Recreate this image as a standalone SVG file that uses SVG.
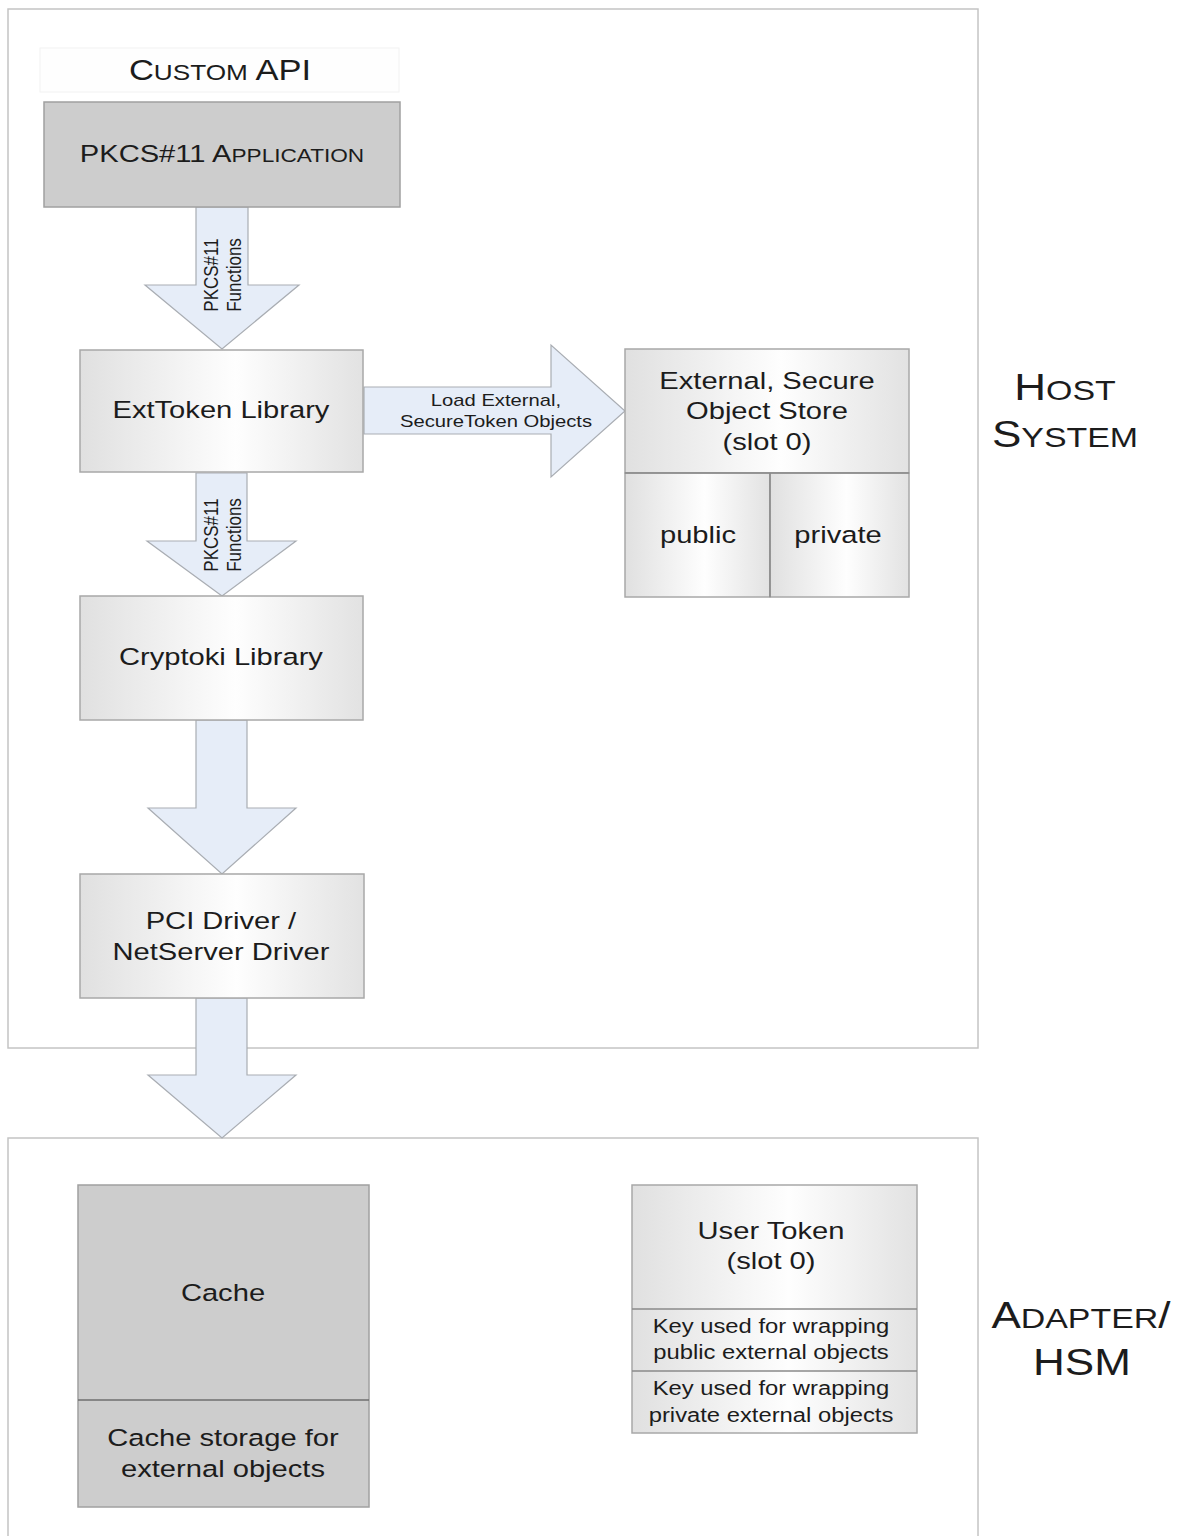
<svg xmlns="http://www.w3.org/2000/svg" width="1184" height="1536" viewBox="0 0 1184 1536">
<defs>
<linearGradient id="g" x1="0" y1="0" x2="1" y2="0">
<stop offset="0" stop-color="#e0e0e0"/>
<stop offset="0.55" stop-color="#fefefe"/>
<stop offset="1" stop-color="#e2e2e2"/>
</linearGradient>
</defs>
<style>
text{font-family:"Liberation Sans",Arial,sans-serif;fill:#1c1c1c;text-anchor:middle}
.s{transform-box:fill-box;transform-origin:center;transform:scaleX(1.19)}
.f{font-size:24.5px}
.m{font-size:20px}
.sm{font-size:17px}
.cont{fill:#ffffff;stroke:#c4c4c4;stroke-width:1.5}
.lt{fill:url(#g);stroke:#a8a8a8;stroke-width:1.5}
.dk{fill:#cdcdcd;stroke:#a0a0a0;stroke-width:1.5}
.arr{fill:#e6edf8;stroke:#a9adb3;stroke-width:1.2}
.div{stroke:#8a8a8a;stroke-width:1.5}
</style>
<rect width="1184" height="1536" fill="#ffffff"/>
<g id="containers">
<g id="host-system">
<rect class="cont" x="8" y="9" width="970" height="1039"/>
<text class="s" x="1065" y="400" font-size="37">H<tspan font-size="28.5">OST</tspan></text>
<text class="s" x="1065" y="447" font-size="37">S<tspan font-size="28.5">YSTEM</tspan></text>
</g>
<g id="adapter-hsm">
<rect class="cont" x="8" y="1138" width="970" height="420"/>
<text class="s" x="1081" y="1328" font-size="37">A<tspan font-size="28.5">DAPTER</tspan>/</text>
<text class="s" x="1082" y="1375" font-size="37">HSM</text>
</g>
</g>
<g id="connectors">
<g id="arrow-app-ext">
<polygon class="arr" points="196,207 248,207 248,285 299,285 222,349 145,285 196,285"/>
<g transform="translate(222,275) scale(1.19,1) rotate(-90)">
<text class="sm" x="0" y="-3.3">PKCS#11</text>
<text class="sm" x="0" y="15.8">Functions</text>
</g>
</g>
<g id="arrow-ext-store">
<polygon class="arr" points="364,387 551,387 551,345 625,411 551,477 551,434 364,434"/>
<text class="sm s" x="496" y="406">Load External,</text>
<text class="sm s" x="496" y="427">SecureToken Objects</text>
</g>
<g id="arrow-ext-crypto">
<polygon class="arr" points="196,473 247,473 247,541 296,541 222,596 147,541 196,541"/>
<g transform="translate(222,535) scale(1.19,1) rotate(-90)">
<text class="sm" x="0" y="-3.3">PKCS#11</text>
<text class="sm" x="0" y="15.8">Functions</text>
</g>
</g>
<g id="arrow-crypto-pci">
<polygon class="arr" points="196,720 247,720 247,808 296,808 222,874 148,808 196,808"/>
</g>
<g id="arrow-pci-hsm">
<polygon class="arr" points="196,998 247,998 247,1075 296,1075 222,1138 148,1075 196,1075"/>
</g>
</g>
<g id="custom-api">
<rect x="40" y="48" width="359" height="44" fill="#fefefe" stroke="#f2f2f2" stroke-width="1"/>
<text class="s" x="220" y="80" font-size="29">C<tspan font-size="22">USTOM</tspan> API</text>
</g>
<g id="pkcs11-application">
<rect class="dk" x="44" y="102" width="356" height="105"/>
<text class="s" x="222" y="162" font-size="24.5">PKCS#11 A<tspan font-size="19">PPLICATION</tspan></text>
</g>
<g id="exttoken-library">
<rect class="lt" x="80" y="350" width="283" height="122"/>
<text class="f s" x="221" y="418">ExtToken Library</text>
</g>
<g id="cryptoki-library">
<rect class="lt" x="80" y="596" width="283" height="124"/>
<text class="f s" x="221" y="665">Cryptoki Library</text>
</g>
<g id="pci-driver">
<rect class="lt" x="80" y="874" width="284" height="124"/>
<text class="f s" x="221" y="929">PCI Driver /</text>
<text class="f s" x="221" y="960">NetServer Driver</text>
</g>
<g id="external-store">
<rect class="lt" x="625" y="349" width="284" height="124"/>
<rect class="lt" x="625" y="473" width="145" height="124"/>
<rect class="lt" x="770" y="473" width="139" height="124"/>
<line class="div" x1="625" y1="473" x2="909" y2="473"/>
<line class="div" x1="770" y1="473" x2="770" y2="597"/>
<text class="f s" x="767" y="389">External, Secure</text>
<text class="f s" x="767" y="419">Object Store</text>
<text class="f s" x="767" y="450">(slot 0)</text>
<text class="f s" x="698" y="543">public</text>
<text class="f s" x="838" y="543">private</text>
</g>
<g id="cache">
<rect class="dk" x="78" y="1185" width="291" height="322"/>
<line x1="78" y1="1400" x2="369" y2="1400" stroke="#6e6e6e" stroke-width="1.5"/>
<text class="f s" x="223" y="1301">Cache</text>
<text class="f s" x="223" y="1446">Cache storage for</text>
<text class="f s" x="223" y="1477">external objects</text>
</g>
<g id="user-token">
<rect class="lt" x="632" y="1185" width="285" height="248"/>
<line class="div" x1="632" y1="1309" x2="917" y2="1309"/>
<line class="div" x1="632" y1="1371" x2="917" y2="1371"/>
<text class="f s" x="771" y="1239">User Token</text>
<text class="f s" x="771" y="1269">(slot 0)</text>
<text class="m s" x="771" y="1333">Key used for wrapping</text>
<text class="m s" x="771" y="1359">public external objects</text>
<text class="m s" x="771" y="1395">Key used for wrapping</text>
<text class="m s" x="771" y="1422">private external objects</text>
</g>
</svg>
